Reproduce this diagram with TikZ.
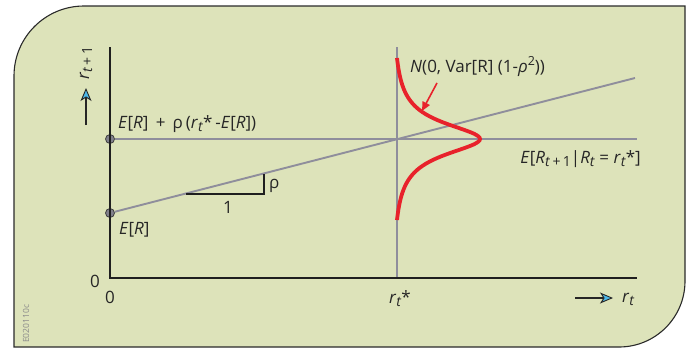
\documentclass[tikz,border=0pt]{standalone}
\usepackage{fontspec}
\setmainfont{Open Sans}
\usetikzlibrary{arrows.meta}
\definecolor{panelfill}{HTML}{DDE3BA}
\definecolor{frameline}{HTML}{2A2A2A}
\definecolor{guidegray}{HTML}{8F8E9C}
\definecolor{curvered}{HTML}{E8222B}
\definecolor{tipblue}{HTML}{4DB8E8}
\definecolor{codegray}{HTML}{8A8A8A}
\newcommand\lowsub[1]{\raisebox{-0.35ex}{\fontsize{14}{14}\selectfont #1}}
\newcommand\upsup[1]{\raisebox{0.7ex}{\fontsize{12.5}{12.5}\selectfont #1}}
\begin{document}
\begin{tikzpicture}[x=1pt,y=-1pt,
  lbl/.style={inner sep=0pt, font=\fontsize{17}{19}\selectfont, text=black!85},
  axisline/.style={line width=2.6pt, draw=black!88},
  guide/.style={line width=1.9pt, draw=guidegray},
  dot/.style={circle, minimum size=9pt, inner sep=0pt, fill=guidegray!90!black, draw=black!75, line width=0.8pt},
  bluearrow/.style={line width=1.1pt, draw=black!85, -{Stealth[length=13pt, width=11pt, inset=3.5pt, fill=tipblue, line width=0.9pt]}},
  redarrow/.style={line width=1.6pt, draw=curvered, -{Triangle[length=9pt, width=8pt]}},
  tri/.style={line width=1.4pt, draw=black!88}
]
\useasboundingbox (0,0) rectangle (690,351);
% panel
\draw[fill=panelfill, draw=frameline, line width=1.1pt]
  (14,347) -- (14,76) .. controls (14,37.3) and (45.3,6) .. (84,6)
  -- (685,6) -- (685,281) .. controls (685,317.5) and (655.5,347) .. (619,347) -- cycle;
% coordinates
\coordinate (origin) at (110,278);
\coordinate (ytop) at (110,47);
\coordinate (xend) at (637,278);
\coordinate (hend) at (637,139);
\coordinate (vtop) at (397,47);
\coordinate (vbot) at (397,278);
\coordinate (slopeend) at (635,78);
\coordinate (t1) at (186,194);
\coordinate (t2) at (264,194);
\coordinate (t3) at (264,173.5);
% guide lines
\node[dot] (cond) at (110,139) {};
\node[dot] (mean) at (110,213) {};
\draw[guide] (cond) -- (hend);
\draw[guide] (vtop) -- (vbot);
\draw[guide] (mean) -- (slopeend);
% axes
\draw[axisline] (ytop) -- (origin) -- (xend);
% slope triangle
\draw[tri] (t1) -- (t2) -- (t3);
\node[lbl, anchor=base west] (rholbl) at (269,188) {ρ};
\node[lbl, anchor=base] (onelbl) at (228,213) {1};
% red curve
\draw[curvered, line width=3.8pt, line cap=butt]
  plot[domain=-81:81, samples=121, smooth] ({397 + 83*(1/(1+(\x/19.5)^2) - 0.0548)/0.9452}, {139+\x});
\coordinate (rarrs) at (437,83);
\coordinate (rarre) at (422,111);
\draw[redarrow] (rarrs) -- (rarre);
% labels
\node[lbl, anchor=base west] (condlbl) at (118,128) {\textit{E}[\textit{R}]\, +\, ρ\,(\textit{r}\lowsub{\textit{t}}*\,-\textit{E}[\textit{R}])};
\node[lbl, anchor=base west] (meanlbl) at (119,234) {\textit{E}[\textit{R}]};
\node[lbl, anchor=base west] (normlbl) at (410,72) {\textit{N}(0, Var[R] (1-\textit{ρ}\upsup{2}))};
\node[lbl, anchor=base east] (celbl) at (641,163) {\textit{E}[\textit{R}\lowsub{\textit{t}\,+\,1}|\textit{R}\lowsub{\textit{t}} = \textit{r}\lowsub{\textit{t}}*]};
\node[lbl, anchor=base] (zeroy) at (95,287) {0};
\node[lbl, anchor=base] (zerox) at (110,303) {0};
\node[lbl, anchor=base west] (rstar) at (389,303) {\textit{r}\lowsub{\textit{t}}*};
\node[lbl, anchor=base west] (rtlbl) at (622,302) {\textit{r}\lowsub{\textit{t}}};
\node[lbl, anchor=base west, rotate=90] (rt1lbl) at (89,80) {\textit{r}\lowsub{\textit{t}\,+\,1}};
\node[inner sep=0pt, anchor=base west, rotate=90, font=\fontsize{8.5}{9}\selectfont, text=codegray] (code) at (29,343) {E020110c};
% axis direction arrows
\coordinate (xas) at (575,298);
\coordinate (xae) at (613,298);
\coordinate (yas) at (86,125);
\coordinate (yae) at (86,88);
\draw[bluearrow] (xas) -- (xae);
\draw[bluearrow] (yas) -- (yae);
\end{tikzpicture}
\end{document}
